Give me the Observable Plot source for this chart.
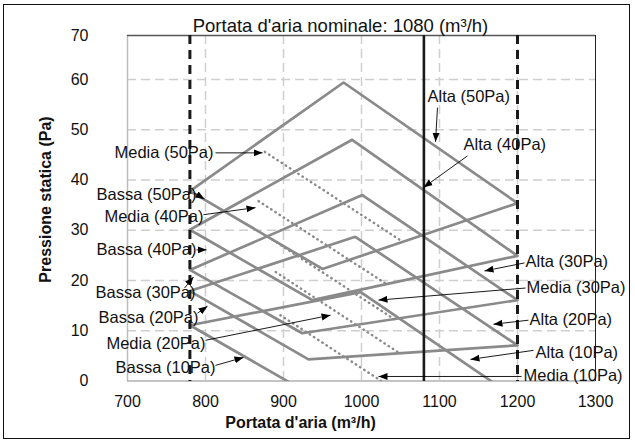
<!DOCTYPE html>
<html><head><meta charset="utf-8">
<script src="https://cdn.jsdelivr.net/npm/d3@7"></script>
<script src="https://cdn.jsdelivr.net/npm/@observablehq/plot@0.6"></script>
<style>
html,body{margin:0;padding:0;background:#fff;}
#wrap{position:relative;width:635px;height:441px;overflow:hidden;}
#border{position:absolute;left:3px;top:4px;width:625px;height:433px;border:1.5px solid #111;pointer-events:none;}
#wrap svg{position:absolute;left:0;top:0;font-family:"Liberation Sans",Arial,sans-serif;}
</style></head><body><div id="wrap"><div id="border"></div></div>
<script>
// Operating envelopes (one per static-pressure setting): left / peak / right / bottom vertices
const pressures = [50, 40, 30, 20, 10];
const leftFlow = [780, 780, 780, 780, 780];
const leftPressure = [37.8, 30.1, 22.1, 17.9, 11.1];
const peakFlow = [977, 988, 1001, 992, 999];
const peakPressure = [59.4, 48.0, 37.0, 28.7, 17.7];
const rightFlow = [1200, 1200, 1200, 1200, 1200];
const rightPressure = [35.4, 24.9, 16.1, 7.1, -3.6];
const bottomFlow = [950, 937, 924, 932, 945];
const bottomPressure = [22.3, 16.1, 9.5, 4.3, -3.6];
// Media (dotted) curves
const mediaStartFlow = [876, 868, 886, 890, 896];
const mediaStartPressure = [45.6, 35.8, 28.1, 21.7, 13.1];
const mediaEndFlow = [1053, 1032, 1042, 1049, 1061];
const mediaEndPressure = [27.7, 19.3, 12.3, 5.5, -3.6];
// Axes
const xTicks = [700, 800, 900, 1000, 1100, 1200, 1300];
const yTicks = [0, 10, 20, 30, 40, 50, 60, 70];
const limitFlows = [780, 1200];
const nominalFlow = [1080];
// Annotations
const labelText = ["Media (50Pa)","Bassa (50Pa)","Media (40Pa)","Bassa (40Pa)","Bassa (30Pa)","Bassa (20Pa)","Media (20Pa)","Bassa (10Pa)","Alta (50Pa)","Alta (40Pa)","Alta (30Pa)","Media (30Pa)","Alta (20Pa)","Alta (10Pa)","Media (10Pa)"];
const labelFlow = [810.3, 788.5, 797.4, 788.5, 787.2, 791, 800, 812.8, 1084.6, 1130.8, 1210.3, 1211.5, 1215.4, 1223.1, 1207.7];
const labelPressure = [45.4, 37.0, 32.7, 26.1, 17.5, 12.5, 7.5, 2.7, 56.6, 47.0, 23.7, 18.5, 12.1, 5.7, 1.1];
const arrowFromFlow = [812.8, 786, 797.4, 788.5, 773.1, 789.7, 800, 812.8, 1097.4, 1135.9, 1209, 1210.3, 1214.1, 1220.5, 1205.1];
const arrowFromPressure = [45.4, 37.4, 33.1, 26.1, 18.5, 13.5, 8.1, 3.1, 54.4, 44.8, 23.5, 18.5, 12.1, 6.1, 0.9];
const arrowToFlow = [873.1, 798.7, 864.1, 801.3, 784.6, 802.6, 960.3, 848.7, 1094.9, 1079.5, 1157.7, 1021.8, 1169.2, 1139.7, 1021.8];
const arrowToPressure = [45.4, 36.2, 34.5, 26.1, 20.7, 14.9, 13.1, 4.7, 47.6, 38.5, 21.9, 16.1, 11.3, 4.3, 0.9];
const titleText = "Portata d'aria nominale: 1080 (m\u00B3/h)";
const xLabel = "Portata d'aria (m\u00B3/h)";
const yLabel = "Pressione statica (Pa)";

// Build tables
const envelope = [];
pressures.forEach((p, i) => {
  const pts = [[leftFlow[i], leftPressure[i]], [peakFlow[i], peakPressure[i]], [rightFlow[i], rightPressure[i]], [bottomFlow[i], bottomPressure[i]], [leftFlow[i], leftPressure[i]]];
  pts.forEach(([x, y]) => envelope.push({p, x, y}));
});
const media = pressures.map((p, i) => ({p, x1: mediaStartFlow[i], y1: mediaStartPressure[i], x2: mediaEndFlow[i], y2: mediaEndPressure[i]}));
const notes = labelText.map((t, i) => ({t, x: labelFlow[i], y: labelPressure[i], x1: arrowFromFlow[i], y1: arrowFromPressure[i], x2: arrowToFlow[i], y2: arrowToPressure[i]}));
const inner = yTicks.filter(v => v > 0 && v < 70);
const innerX = xTicks.filter(v => v > 700 && v < 1300);

const chart = Plot.plot({
  width: 635, height: 441,
  marginLeft: 127, marginRight: 40, marginTop: 35, marginBottom: 60,
  x: {type: "linear", domain: [700, 1300], ticks: xTicks},
  y: {type: "linear", domain: [0, 60, 70], range: [380.5, 79, 35], ticks: yTicks},
  style: {fontFamily: "'Liberation Sans', Arial, sans-serif", fontSize: "16px", background: "white", overflow: "visible"},
  marks: [
    Plot.ruleY(inner, {stroke: "#cfcfcf", strokeWidth: 1.5, strokeDasharray: "9,5"}),
    Plot.ruleX(innerX, {stroke: "#cfcfcf", strokeWidth: 1.5, strokeDasharray: "9,5"}),
    Plot.ruleX([700], {stroke: "#bdbdbd", strokeWidth: 1.5}),
    Plot.ruleY([0], {stroke: "#b0b0b0", strokeWidth: 1.5}),
    Plot.ruleY([70], {stroke: "#555", strokeWidth: 1.5}),
    Plot.ruleX([1300], {stroke: "#222", strokeWidth: 1}),
    Plot.line(envelope, {x: "x", y: "y", z: "p", stroke: "#8a8a8a", strokeWidth: 2.7, clip: true}),
    Plot.link(media, {x1: "x1", y1: "y1", x2: "x2", y2: "y2", stroke: "#8a8a8a", strokeWidth: 2.4, strokeDasharray: "0.5,4.5", strokeLinecap: "round", clip: true}),
    Plot.ruleX(limitFlows, {stroke: "#1a1a1a", strokeWidth: 3, strokeDasharray: "9,6"}),
    Plot.ruleX(nominalFlow, {stroke: "#1a1a1a", strokeWidth: 2.6}),
    Plot.link(notes, {x1: "x1", y1: "y1", x2: "x2", y2: "y2", stroke: "#000", strokeWidth: 0.9, markerEnd: "arrow"}),
    Plot.text(notes.filter(d => d.x < 1000), {x: "x", y: "y", text: "t", textAnchor: "end", fill: "#111", fontSize: 16.5}),
    Plot.text(notes.filter(d => d.x >= 1000), {x: "x", y: "y", text: "t", textAnchor: "start", fill: "#111", fontSize: 16.5}),
    Plot.axisX(xTicks, {tickSize: 0, tickPadding: 14, fontSize: 16, fill: "#111", label: null, tickFormat: d => String(d)}),
    Plot.axisY(yTicks, {tickSize: 0, tickPadding: 39, fontSize: 16, fill: "#111", label: null, tickFormat: d => String(d)}),
    Plot.text([titleText], {frameAnchor: "top", dy: -17, dx: -21, fontSize: 18.5, fill: "#111"}),
    Plot.text([xLabel], {frameAnchor: "bottom", dy: 46, dx: -61, fontSize: 16, fontWeight: "bold", fill: "#111"}),
    Plot.text([yLabel], {frameAnchor: "left", textAnchor: "middle", dx: -82, dy: -9, rotate: -90, fontSize: 16, fontWeight: "bold", fill: "#111"})
  ]
});
chart.querySelectorAll("marker").forEach(m => {
  m.setAttribute("markerUnits", "userSpaceOnUse");
  m.setAttribute("viewBox", "-9 -4 10 8");
  m.setAttribute("markerWidth", "10");
  m.setAttribute("markerHeight", "8");
  m.setAttribute("refX", "0");
  m.setAttribute("refY", "0");
  m.setAttribute("fill", "#000");
  m.setAttribute("stroke", "none");
  m.innerHTML = '<path d="M-9,-3.5L0,0L-9,3.5Z"></path>';
});
document.getElementById("wrap").insertBefore(chart, document.getElementById("border"));
</script></body></html>
